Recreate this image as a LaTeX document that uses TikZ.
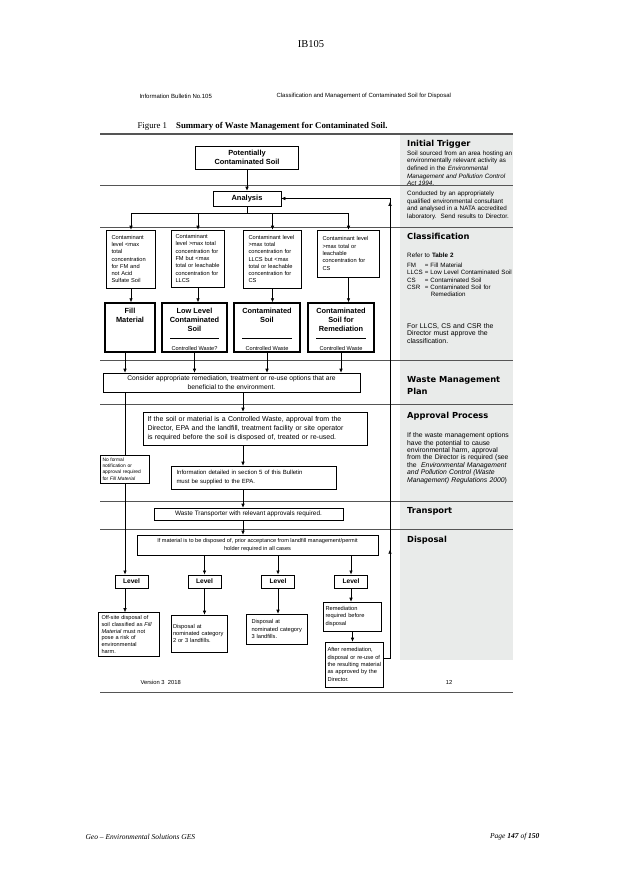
\documentclass[tikz,border=0pt]{standalone}
\usepackage{fontspec}
\setmainfont{Liberation Sans}
\newfontfamily\seriffont{Liberation Serif}
\newfontfamily\headfont{DejaVu Sans}
\usetikzlibrary{arrows.meta}
\usetikzlibrary{calc}
\usetikzlibrary{decorations.markings}
\definecolor{panelgrey}{RGB}{233,235,234}
\definecolor{rulegrey}{RGB}{85,85,85}
\newcommand{\fsz}[2]{\fontsize{#1}{#2}\selectfont}
\tikzstyle{block} = [draw, fill=white, line width=0.6pt, inner xsep=3pt, inner ysep=1pt]
\tikzstyle{textblock} = [block, align=left, font=\fsz{5.7}{7.3}]
\tikzstyle{catblock} = [draw, fill=white, line width=1.5pt, minimum height=49pt]
\tikzstyle{cattitle} = [anchor=north, align=center, inner sep=2pt, font=\bfseries\fsz{7.4}{9}]
\tikzstyle{levelblock} = [block, line width=1pt, minimum width=33pt, minimum height=13pt, font=\bfseries\fsz{6.6}{8}]
\tikzstyle{arrow} = [-{Latex[length=4pt, width=3.6pt]}, line width=0.6pt]
\tikzstyle{sepline} = [rulegrey, line width=0.9pt]
\tikzstyle{heading} = [anchor=north west, inner sep=0pt, align=left, font=\headfont\bfseries\fsz{8.3}{12}]
\tikzstyle{notes} = [anchor=north west, inner sep=0pt, align=left, text width=108pt, font=\fsz{6.3}{7.6}]
\newcommand{\drawcat}[5]{\node[catblock, minimum width=#3] (#1) at #2 {};
	\node[cattitle] (#1-title) at ([yshift=-4pt]#1.north) {#4};
	\draw[line width=0.9pt] ([xshift=9pt, yshift=14.5pt]#1.south west) -- ([xshift=-9pt, yshift=14.5pt]#1.south east);
	\node[anchor=south, inner sep=2pt, font=\fsz{5.6}{7}] (#1-note) at (#1.south) {#5}}

\begin{document}
\begin{tikzpicture}[x=1pt, y=-1pt]
	\useasboundingbox (0,0) rectangle (622,879);
	% page header
	\node[font=\seriffont\fsz{10.5}{12}] (docid) at (311,44) {IB105};
	\node[anchor=west, font=\fsz{6}{7}] (bulletin) at (136,96) {Information Bulletin No.105};
	\node[anchor=west, font=\fsz{6}{7}] (bulltitle) at (273,96) {Classification and Management of Contaminated Soil for Disposal};
	\node[anchor=west, font=\seriffont\fsz{8.8}{10}] (figcap) at (134,126) {Figure 1\hspace{9pt}\textbf{Summary of Waste Management for Contaminated Soil.}};
	
	% side panel and stage rules
	\fill[panelgrey] (400,135) rectangle (513,660);
	\draw[sepline, line width=1.4pt] (100,134) -- (513,134);
	\foreach \y in {185,227,360,404,501,529,692}
		\draw[sepline] (100,\y) -- (513,\y);
	
	\node[heading] (trighead) at (407,140) {Initial Trigger};
	\node[notes] (trignote) at (407,150.5) {Soil sourced from an area hosting an\\environmentally relevant activity as\\defined in the \textit{Environmental}\\\textit{Management and Pollution Control}\\\textit{Act 1994}.};
	\node[notes] (analnote) at (407,191) {Conducted by an appropriately\\qualified environmental consultant\\and analysed in a NATA accredited\\laboratory.\ \ Send results to Director.};
	\node[heading] (classhead) at (407,233) {Classification};
	\node[notes] (tableref) at (407,252.5) {Refer to \textbf{Table 2}};
	\node[notes, font=\fsz{6.2}{7.2}] (abbrev) at (407,262.5) {\begin{tabular}{@{}l@{ }l@{}}FM & = Fill Material\\LLCS & = Low Level Contaminated Soil\\CS & = Contaminated Soil\\CSR & = Contaminated Soil for\\ & \hspace{6pt}Remediation\end{tabular}};
	\node[notes, font=\fsz{6.9}{7.4}] (dirnote) at (407,323) {For LLCS, CS and CSR the\\Director must approve the\\classification.};
	\node[heading] (wmphead) at (407,376) {Waste Management\\Plan};
	\node[heading] (apphead) at (407,412) {Approval Process};
	\node[notes, font=\fsz{6.8}{7.4}] (appnote) at (407,432.5) {If the waste management options\\have the potential to cause\\environmental harm, approval\\from the Director is required (see\\the\ \ \textit{Environmental Management}\\\textit{and Pollution Control (Waste}\\\textit{Management) Regulations 2000})};
	\node[heading] (transhead) at (407,507) {Transport};
	\node[heading] (disphead) at (407,536) {Disposal};
	
	% flow chart
	\node[block, minimum width=103, minimum height=23, align=center, font=\bfseries\fsz{7.4}{9}] (soil) at (247,157.5) {Potentially\\Contaminated Soil};
	\node[block, minimum width=68, minimum height=15, font=\bfseries\fsz{7.5}{9}] (analysis) at (247,198.5) {Analysis};
	
	\node[textblock, inner xsep=5pt, text width=39, minimum height=58] (c1) at (131,259) {Contaminant\\level <max\\total\\concentration\\for FM and\\not Acid\\Sulfate Soil};
	\node[textblock, inner xsep=4pt, text width=45, minimum height=57] (c2) at (198,258.5) {Contaminant\\level >max total\\concentration for\\FM but <max\\total or leachable\\concentration for\\LLCS};
	\node[textblock, inner xsep=5pt, text width=48, minimum height=58] (c3) at (272.5,259) {Contaminant level\\>max total\\concentration for\\LLCS but <max\\total or leachable\\concentration for\\CS};
	\node[textblock, inner xsep=5pt, text width=52, minimum height=47] (c4) at (348.5,253.5) {Contaminant level\\>max total or\\leachable\\concentration for\\CS};
	
	\node[catblock, minimum width=50] (fill) at (130,327.5) {};
	\node[cattitle] (fill-title) at ([yshift=-4pt]fill.north) {Fill\\Material};
	\drawcat{llcs}{(194.5,327.5)}{65}{Low Level\\Contaminated\\Soil}{Controlled Waste?};
	\drawcat{cs}{(267,327.5)}{66}{Contaminated\\Soil}{Controlled Waste};
	\drawcat{csr}{(341,327.5)}{66}{Contaminated\\Soil for\\Remediation}{Controlled Waste};
	
	\node[block, minimum width=257, minimum height=19, align=center, font=\fsz{6.7}{8.6}] (consider) at (231.5,382.5) {Consider appropriate remediation, treatment or re-use options that are\\beneficial to the environment.};
	\node[textblock, inner xsep=4pt, text width=216, minimum height=33, font=\fsz{7}{9.2}] (approval) at (255.5,428.5) {If the soil or material is a Controlled Waste, approval from the\\Director, EPA and the landfill, treatment facility or site operator\\is required before the soil is disposed of, treated or re-used.};
	\node[textblock, inner xsep=5pt, text width=155, minimum height=23, font=\fsz{6}{8.6}] (info) at (254,477.5) {Information detailed in section 5 of this Bulletin\\must be supplied to the EPA.};
	\node[textblock, inner xsep=2pt, text width=45, minimum height=28, font=\fsz{4.9}{6.4}] (nofm) at (125,469) {No formal\\notification or\\approval required\\for \textit{Fill Material}};
	\node[block, minimum width=189, minimum height=12, inner ysep=0pt, font=\fsz{6.4}{8}] (transport) at (248.5,514) {Waste Transporter with relevant approvals required.};
	\node[block, minimum width=241, minimum height=20, align=center, font=\fsz{5.6}{7.6}] (disposal) at (257.5,545) {If material is to be disposed of, prior acceptance from landfill management/permit\\holder required in all cases};
	
	\node[levelblock] (lv1) at (131.5,581.5) {Level};
	\node[levelblock] (lv2) at (204.5,581.5) {Level};
	\node[levelblock] (lv3) at (278,581.5) {Level};
	\node[levelblock] (lv4) at (351,581.5) {Level};
	
	\node[textblock, inner ysep=2.5pt, text width=55, minimum height=44, font=\fsz{5.6}{6.7}] (out1) at (129,634.5) {Off-site disposal of\\soil classified as \textit{Fill}\\\textit{Material} must not\\pose a risk of\\environmental\\harm.};
	\node[textblock, inner xsep=2pt, text width=52, minimum height=37] (out2) at (199,633.5) {Disposal at\\nominated category\\2 or 3 landfills.};
	\node[textblock, inner xsep=5pt, text width=51, minimum height=30] (out3) at (277,629) {Disposal at\\nominated category\\3 landfills.};
	\node[textblock, inner xsep=2pt, text width=54, minimum height=29] (remed) at (352.5,616.5) {Remediation\\required before\\disposal};
	\node[textblock, inner xsep=2pt, text width=54, minimum height=45] (after) at (354.5,664.5) {After remediation,\\disposal or re-use of\\the resulting material\\as approved by the\\Director.};
	
	% connectors
	\draw[arrow] (soil) -- (analysis);
	\coordinate (split) at ($(analysis.south)+(0,7)$);
	\draw[line width=0.6pt] (analysis) -- (split);
	\draw[line width=0.6pt] (split -| c1) -- (split -| c4);
	\foreach \n in {c1,c2,c3,c4}
		\draw[arrow] (split -| \n) -- (\n.north);
	\foreach \n/\m in {c1/fill,c2/llcs,c3/cs,c4/csr}
		\draw[arrow] (\n.south) -- (\n.south |- \m.north);
	
	\coordinate (fm) at ([xshift=-5pt]fill.south);
	\draw[arrow] (fm) -- (fm |- consider.north);
	\foreach \m in {llcs,cs,csr}
		\draw[arrow] (\m.south) -- (\m.south |- consider.north);
	\draw[line width=0.6pt] (fm |- consider.south) -- (fm |- nofm.north);
	\draw[arrow] (fm |- nofm.south) -- (fm |- lv1.north);
	\draw[arrow] (fm |- lv1.south) -- (fm |- out1.north);
	
	\coordinate (spine) at (243,0);
	\draw[arrow] (consider.south -| spine) -- (approval.north -| spine);
	\draw[arrow] (approval.south -| spine) -- (info.north -| spine);
	\draw[arrow] (info.south -| spine) -- (transport.north -| spine);
	\draw[arrow] (transport.south -| spine) -- (disposal.north -| spine);
	
	\foreach \n in {lv2,lv3,lv4}
		\draw[arrow] (disposal.south -| \n) -- (\n.north);
	\draw[arrow] (lv2.south) -- (lv2.south |- out2.north);
	\draw[arrow] (lv3.south) -- (lv3.south |- out3.north);
	\draw[arrow] (lv4.south) -- (lv4.south |- remed.north);
	\draw[arrow] (remed.south) -- (remed.south |- after.north);
	
	\coordinate (rtn) at (390,0);
	\draw[arrow, line width=0.5pt, postaction={decorate}, decoration={markings,
		mark=at position 0.2 with {\arrow{Latex[length=4pt, width=3.6pt]}},
		mark=at position 0.805 with {\arrow{Latex[length=4pt, width=3.6pt]}}}]
		([yshift=6pt]after.east) -- ([yshift=6pt]after.east -| rtn) -- (rtn |- analysis.east) -- (analysis.east);
	
	% page footer
	\node[anchor=west, font=\fsz{5.8}{7}] (version) at (137,682) {Version 3\ \ 2018};
	\node[font=\fsz{5.8}{7}] (pageno) at (449,682) {12};
	\node[anchor=west, font=\seriffont\itshape\fsz{7.5}{9}] (footleft) at (82,837) {Geo \textendash{} Environmental Solutions GES};
	\node[anchor=east, font=\seriffont\itshape\fsz{7.5}{9}] (footright) at (543,837) {Page \textbf{147} of \textbf{150}};
\end{tikzpicture}
\end{document}
